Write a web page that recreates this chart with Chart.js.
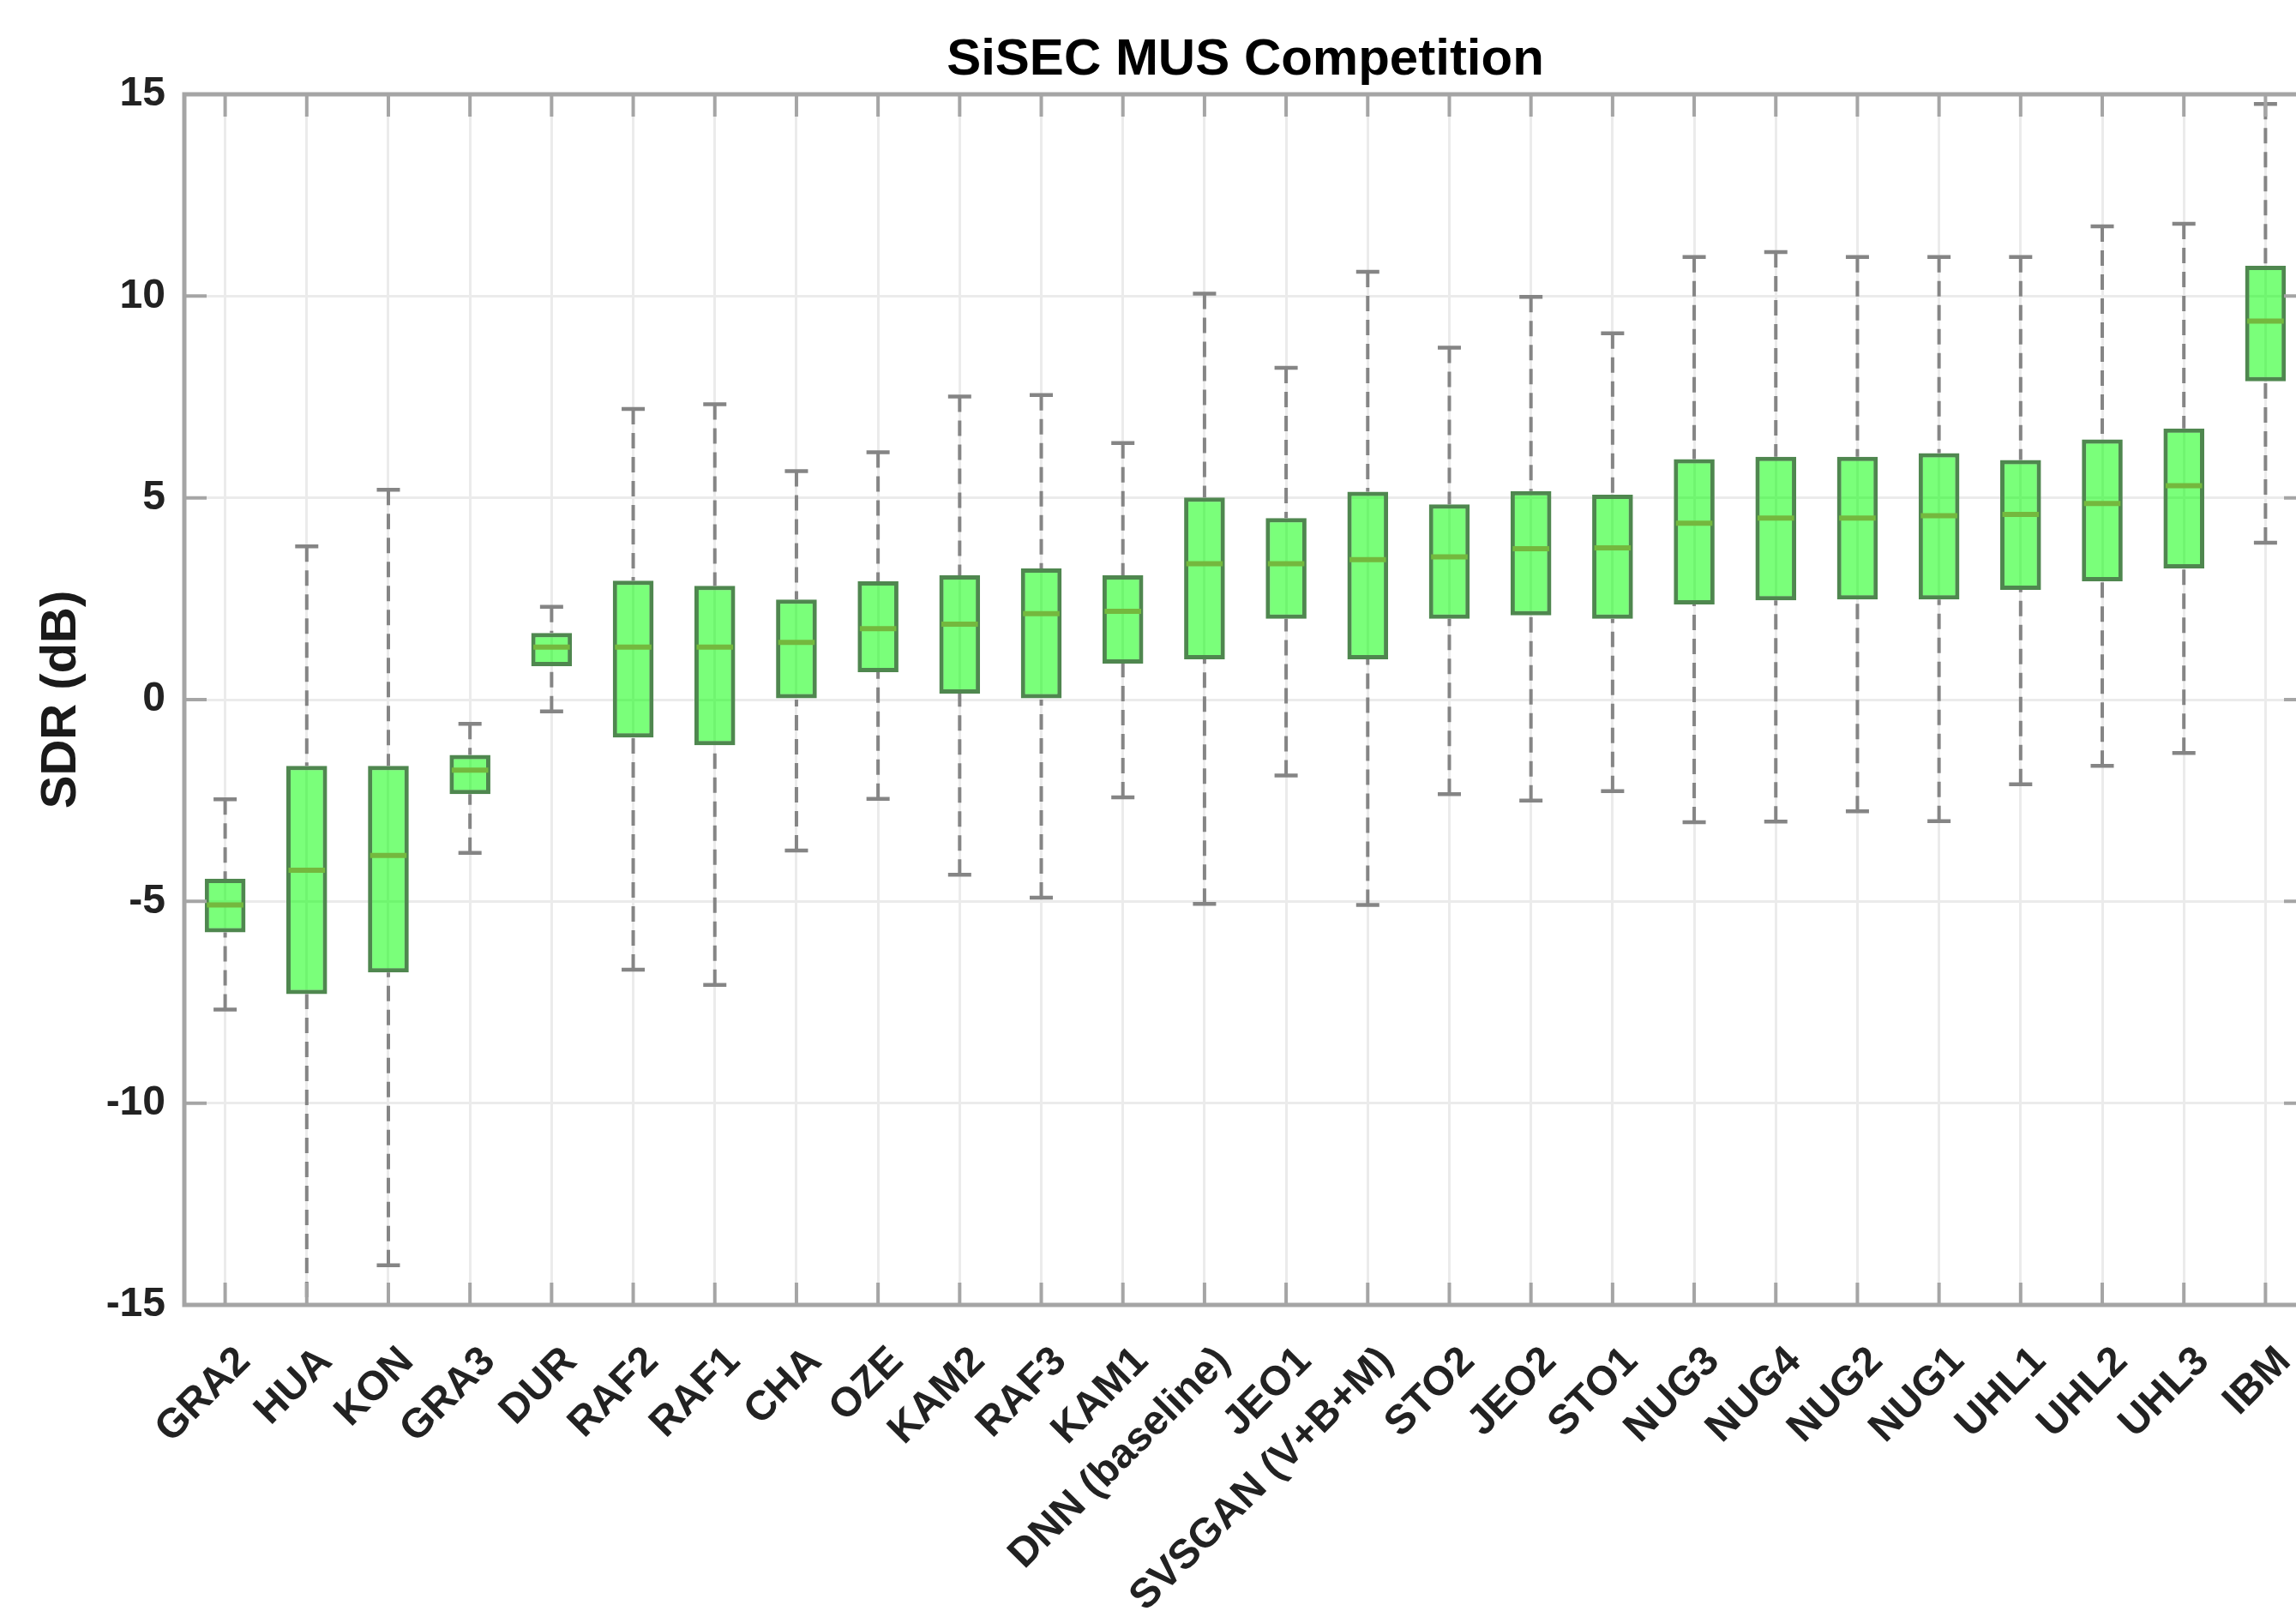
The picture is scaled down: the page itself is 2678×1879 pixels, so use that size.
<!DOCTYPE html>
<html>
<head>
<meta charset="utf-8">
<title>SiSEC MUS Competition</title>
<script src="https://cdn.jsdelivr.net/npm/chart.js@4.4.1/dist/chart.umd.min.js"></script>
<style>
    html, body { margin: 0; padding: 0; background: #fff; overflow: hidden; }
    #sdrChart { display: block; }
</style>
</head>
<body>
<canvas id="sdrChart" width="2760" height="1879"></canvas>
<script>
// Box plot statistics (SDR in dB)
const methods = ['GRA2', 'HUA', 'KON', 'GRA3', 'DUR', 'RAF2', 'RAF1', 'CHA', 'OZE', 'KAM2', 'RAF3', 'KAM1',
    'DNN (baseline)', 'JEO1', 'SVSGAN (V+B+M)', 'STO2', 'JEO2', 'STO1', 'NUG3', 'NUG4', 'NUG2', 'NUG1',
    'UHL1', 'UHL2', 'UHL3', 'IBM'];
const sdrMin = [-7.68, -16.0, -14.02, -3.8, -0.29, -6.69, -7.07, -3.74, -2.46, -4.34, -4.91, -2.42,
    -5.06, -1.88, -5.09, -2.34, -2.5, -2.27, -3.04, -3.02, -2.77, -3.01, -2.1, -1.64, -1.32, 3.89];
const sdrQ1 = [-5.77, -7.3, -6.76, -2.34, 0.83, -0.94, -1.13, 0.0, 0.68, 0.15, 0.0, 0.89,
    1.0, 2.0, 1.0, 2.0, 2.09, 2.0, 2.36, 2.46, 2.48, 2.48, 2.72, 2.93, 3.25, 7.89];
const sdrMedian = [-5.09, -4.23, -3.86, -1.75, 1.3, 1.3, 1.3, 1.42, 1.76, 1.87, 2.13, 2.19,
    3.37, 3.37, 3.47, 3.54, 3.74, 3.76, 4.37, 4.5, 4.5, 4.56, 4.59, 4.86, 5.3, 9.38];
const sdrQ3 = [-4.44, -1.64, -1.64, -1.37, 1.65, 2.95, 2.82, 2.48, 2.93, 3.08, 3.25, 3.08,
    5.01, 4.5, 5.15, 4.84, 5.17, 5.08, 5.96, 6.02, 6.02, 6.11, 5.94, 6.45, 6.72, 10.75];
const sdrMax = [-2.47, 3.8, 5.2, -0.6, 2.3, 7.2, 7.32, 5.66, 6.13, 7.51, 7.55, 6.36,
    10.06, 8.22, 10.6, 8.72, 9.98, 9.08, 10.97, 11.09, 10.97, 10.97, 10.97, 11.73, 11.79, 14.76];
const yMin = -15;
const yMax = 15;
const yStep = 5;

const FONT = '"Liberation Sans", Arial, Helvetica, sans-serif';
const AXIS_GREY = '#a5a5a5';

// Whiskers, caps, medians, plus the MATLAB-style box frame with inward ticks
const boxPlotExtras = {
    id: 'boxPlotExtras',
    afterDatasetsDraw(chart) {
        const { ctx, chartArea: a, scales: { x, y } } = chart;
        const bars = chart.getDatasetMeta(0).data;
        const capHalf = 13.5;
        ctx.save();
        ctx.beginPath();
        ctx.rect(a.left, a.top, a.right - a.left, a.bottom - a.top);
        ctx.clip();
        methods.forEach((m, i) => {
            const cx = x.getPixelForValue(i);
            const yLo = y.getPixelForValue(sdrMin[i]);
            const yQ1 = y.getPixelForValue(sdrQ1[i]);
            const yMed = y.getPixelForValue(sdrMedian[i]);
            const yQ3 = y.getPixelForValue(sdrQ3[i]);
            const yHi = y.getPixelForValue(sdrMax[i]);

            // dashed whiskers
            ctx.strokeStyle = '#858585';
            ctx.lineWidth = 4;
            ctx.setLineDash([18, 10]);
            ctx.beginPath();
            ctx.moveTo(cx, yHi);
            ctx.lineTo(cx, yQ3);
            ctx.moveTo(cx, yLo);
            ctx.lineTo(cx, yQ1);
            ctx.stroke();

            // caps
            ctx.setLineDash([]);
            ctx.lineWidth = 4.5;
            ctx.beginPath();
            ctx.moveTo(cx - capHalf, yHi);
            ctx.lineTo(cx + capHalf, yHi);
            ctx.moveTo(cx - capHalf, yLo);
            ctx.lineTo(cx + capHalf, yLo);
            ctx.stroke();

            // median
            const half = bars[i].width / 2 - 2.5;
            ctx.strokeStyle = '#74b83e';
            ctx.lineWidth = 6;
            ctx.beginPath();
            ctx.moveTo(cx - half, yMed);
            ctx.lineTo(cx + half, yMed);
            ctx.stroke();
        });
        ctx.restore();
    },
    afterDraw(chart) {
        const { ctx, chartArea: a, scales: { x, y } } = chart;
        const tickLen = 26;
        ctx.save();
        ctx.strokeStyle = AXIS_GREY;
        ctx.lineWidth = 4;
        ctx.beginPath();
        x.ticks.forEach((t, i) => {
            const px = x.getPixelForTick(i);
            ctx.moveTo(px, a.bottom);
            ctx.lineTo(px, a.bottom - tickLen);
            ctx.moveTo(px, a.top);
            ctx.lineTo(px, a.top + tickLen);
        });
        y.ticks.forEach((t, i) => {
            const py = y.getPixelForTick(i);
            ctx.moveTo(a.left, py);
            ctx.lineTo(a.left + tickLen, py);
            ctx.moveTo(a.right, py);
            ctx.lineTo(a.right - tickLen, py);
        });
        ctx.stroke();
        ctx.lineWidth = 5;
        ctx.strokeRect(a.left, a.top, a.right - a.left, a.bottom - a.top);
        ctx.restore();
    }
};

const ctx = document.getElementById('sdrChart').getContext('2d');
const sdrChart = new Chart(ctx, {
    type: 'bar',
    data: {
        labels: methods,
        datasets: [{
            label: 'SDR',
            data: methods.map((m, i) => [sdrQ1[i], sdrQ3[i]]),
            backgroundColor: 'rgba(0, 255, 0, 0.52)',
            borderColor: '#4f874f',
            borderWidth: 5,
            borderSkipped: false,
            barPercentage: 0.5,
            categoryPercentage: 1.0
        }]
    },
    options: {
        responsive: false,
        animation: false,
        devicePixelRatio: 1,
        layout: {
            padding: { left: 0, right: 70, top: 0, bottom: 0 }
        },
        plugins: {
            legend: { display: false },
            tooltip: { enabled: false },
            title: {
                display: true,
                text: 'SiSEC MUS Competition',
                color: '#000',
                fullSize: false,
                font: { family: FONT, size: 60, weight: 'bold' },
                padding: { top: 34, bottom: 4 }
            }
        },
        scales: {
            x: {
                grid: {
                    color: '#ebebeb',
                    lineWidth: 3,
                    offset: false,
                    drawTicks: false
                },
                border: { display: false },
                ticks: {
                    color: '#222',
                    font: { family: FONT, size: 48, weight: 'bold' },
                    autoSkip: false,
                    minRotation: 45,
                    maxRotation: 45,
                    padding: 38,
                    labelOffset: 22
                },
                afterFit: (scale) => { scale.height = 357; }
            },
            y: {
                min: yMin,
                max: yMax,
                grid: {
                    color: '#ebebeb',
                    lineWidth: 3,
                    drawTicks: false
                },
                border: { display: false },
                ticks: {
                    stepSize: yStep,
                    color: '#222',
                    font: { family: FONT, size: 48, weight: 'bold' },
                    padding: 22
                },
                title: {
                    display: true,
                    text: 'SDR (dB)',
                    color: '#1a1a1a',
                    font: { family: FONT, size: 58, weight: 'bold' },
                    padding: { top: 37, bottom: 0 }
                },
                afterFit: (scale) => { scale.width = 215; }
            }
        }
    },
    plugins: [boxPlotExtras]
});
</script>
</body>
</html>
